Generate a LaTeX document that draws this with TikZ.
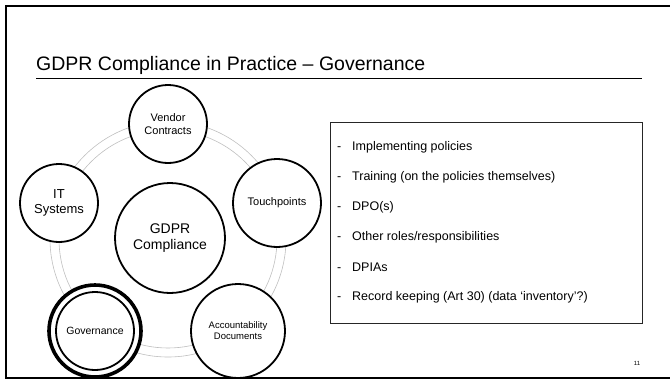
\documentclass[tikz,border=0pt]{standalone}
\usepackage{fontspec}
\setmainfont{Liberation Sans}
\newcommand{\fs}[1]{\fontsize{#1}{1.15\dimexpr#1pt\relax}\selectfont}

\begin{document}
\begin{tikzpicture}[x=1pt,y=-1pt,
    spoke/.style={circle,draw,line width=1.8pt,fill=white,align=center,inner sep=0pt},
    ringline/.style={draw=black!25,line width=0.6pt}]
  \useasboundingbox (0,0) rectangle (670,380);
  % slide frame, open on the right
  \draw[line width=2.2pt] (670,6) -- (6,6) -- (6,378) -- (670,378);

  % title and rule
  \node[anchor=base west,inner sep=0pt,font=\fs{19.5}] (title) at (36,70)
    {GDPR Compliance in Practice – Governance};
  \draw[line width=0.9pt] (36,78) -- (642,78);

  % cycle ring
  \coordinate (hub) at (168,239);
  \draw[ringline] (hub) circle[radius=109];
  \draw[ringline] (hub) circle[radius=118];

  % spokes of the cycle
  \node[spoke,minimum size=78,font=\fs{11}] (vendor) at (168,124) {Vendor\\Contracts};
  \node[spoke,minimum size=88,font=\fs{11}] (touch) at (277,203) {Touchpoints};
  \node[spoke,minimum size=78,font=\fs{13}] (its) at (59,203) {IT\\Systems};
  \node[spoke,minimum size=94,font=\fs{9.5}] (acct) at (238,331) {Accountability\\Documents};
  \node[spoke,line width=3.6pt,minimum size=92,font=\fs{10.5}] (gov) at (95,331) {Governance};
  \draw[line width=1.8pt] (gov.center) circle[radius=39];
  \node[spoke,minimum size=110,font=\fs{14}] (gdpr) at (170,238) {GDPR\\Compliance};

  % governance tasks
  \node[draw=black!85,line width=1.3pt,anchor=north west,minimum width=312,minimum height=201] (tasks) at (330,122) {};
  \foreach \i/\t in {0/Implementing policies, 1/Training (on the policies themselves), 2/DPO(s),
      3/{Other roles/responsibilities}, 4/DPIAs, 5/Record keeping (Art 30) (data ‘inventory’?)} {
    \node[anchor=west,inner sep=0pt,font=\fs{12.5}] (item\i) at (337,147+30*\i) {\makebox[15pt][l]{-}\t};
  }

  % page number
  \node[font=\fs{6}] (pageno) at (637,363) {11};
\end{tikzpicture}
\end{document}
